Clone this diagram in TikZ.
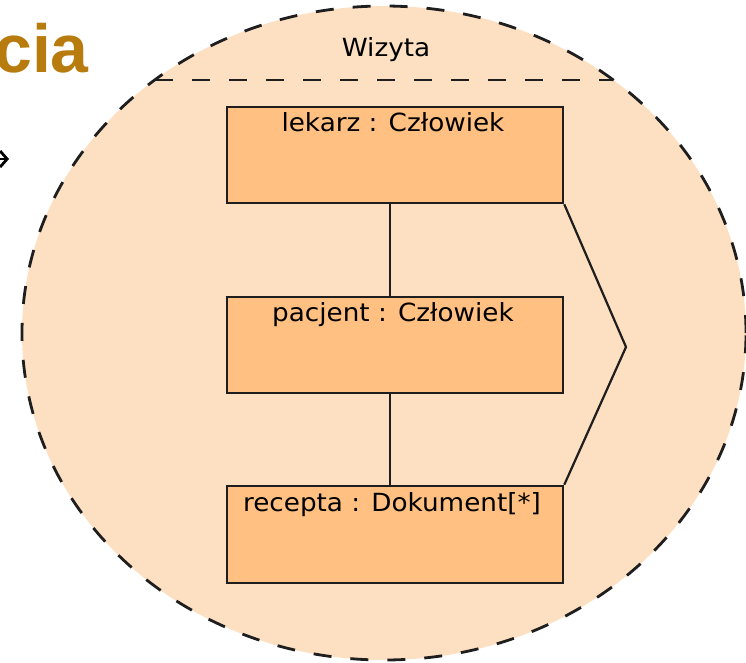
\documentclass[tikz,border=0pt]{standalone}
\usepackage{fontspec}
\newfontfamily\umlfont[FakeStretch=1.05]{DejaVu Sans}
\newfontfamily\titlefont{Liberation Sans}
\usetikzlibrary{shapes.geometric,arrows.meta}

\definecolor{wizytabg}{RGB}{253,223,193}
\definecolor{obiektbg}{RGB}{255,192,130}
\definecolor{tytul}{RGB}{184,124,14}
\definecolor{kreska}{RGB}{30,30,30}

\tikzset{
  obiekt/.style={draw=kreska, line width=2.5pt, fill=obiektbg,
    minimum width=336pt, minimum height=96pt, inner sep=0pt},
  napis/.style={anchor=base, inner sep=0pt,
    font=\umlfont\fontsize{25pt}{29pt}\selectfont},
  kreskowana/.style={draw=kreska, line width=2.8pt, dash pattern=on 18pt off 19pt},
  polaczenie/.style={draw=kreska, line width=2.2pt},
}

\begin{document}
\begin{tikzpicture}[x=1pt, y=-1pt]
  \useasboundingbox (0,0) rectangle (746,662);

  % Tytul
  \node[anchor=base east, inner sep=0pt, text=tytul,
    font=\titlefont\bfseries\fontsize{68pt}{80pt}\selectfont] (tytul) at (89,72.7) {cia};

  % strzalka z lewej
  \coordinate (strzalkaA) at (-14,159);
  \coordinate (strzalkaB) at (9,159);
  \draw[line width=2.8pt, -{Straight Barb[length=7pt,width=16pt]}] (strzalkaA) -- (strzalkaB);

  % Kolaboracja
  \node[ellipse, fill=wizytabg, kreskowana, inner sep=0pt,
    minimum width=724pt, minimum height=654pt] (wizyta) at (384,333) {};
  \node[napis] (wizytaN) at (386,56.7) {Wizyta};

  % linia pod nazwa
  \coordinate (sepL) at (155,80);
  \coordinate (sepR) at (613,80);
  \draw[kreskowana] (sepL) -- (sepR);

  % Obiekty
  \node[obiekt] (lekarz) at (395,155) {};
  \node[obiekt] (pacjent) at (395,345) {};
  \node[obiekt, minimum height=97pt] (recepta) at (395,534.5) {};

  \node[napis] (lekarzN) at ([xshift=-2pt, yshift=-26pt]lekarz.north) {lekarz : Człowiek};
  \node[napis] (pacjentN) at ([xshift=-2pt, yshift=-26pt]pacjent.north) {pacjent : Człowiek};
  \node[napis] (receptaN) at ([xshift=-3pt, yshift=-26.5pt]recepta.north) {recepta : Dokument[*]};

  % Polaczenia
  \draw[polaczenie] ([xshift=-5pt]lekarz.south) -- ([xshift=-5pt]pacjent.north);
  \draw[polaczenie] ([xshift=-5pt]pacjent.south) -- ([xshift=-5pt]recepta.north);

  \coordinate (szpic) at (626,347);
  \draw[polaczenie] (lekarz.south east) -- (szpic) -- (recepta.north east);

\end{tikzpicture}
\end{document}
